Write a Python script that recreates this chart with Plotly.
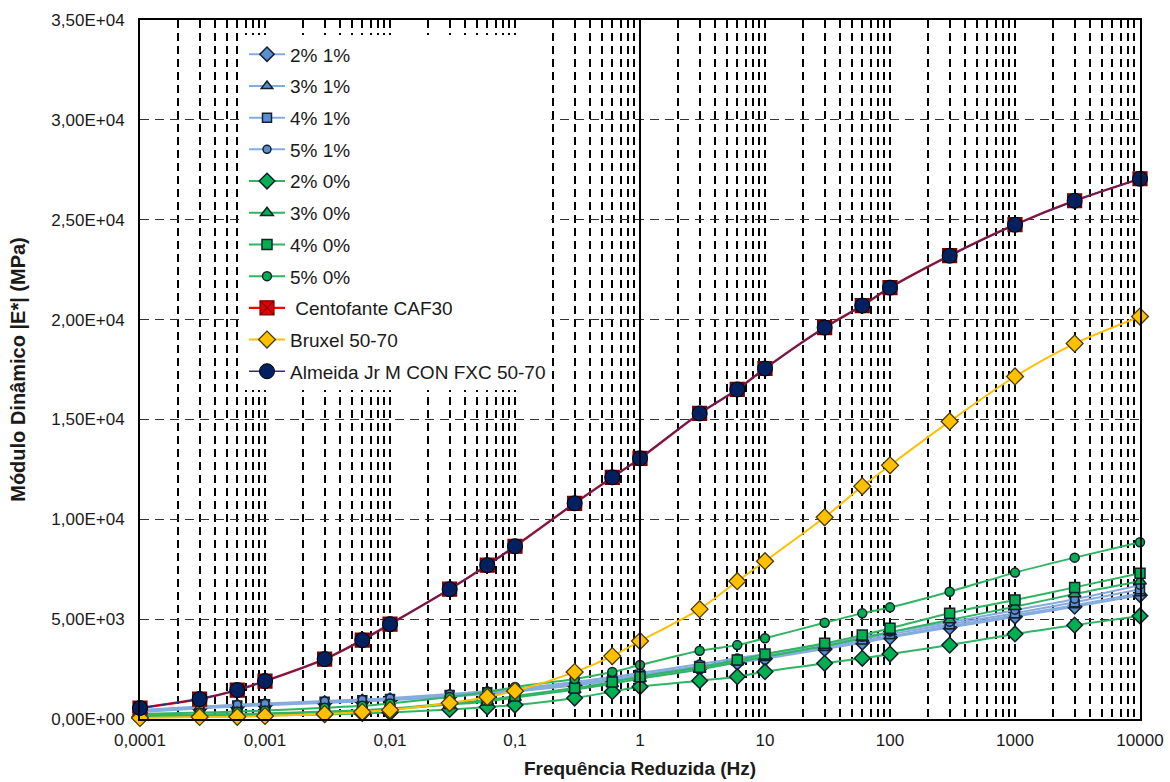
import plotly.graph_objects as go

# Reduced frequency (Hz) shared by every series
freq = [0.0001, 0.0003, 0.0006, 0.001, 0.003, 0.006, 0.01, 0.03, 0.06, 0.1,
        0.3, 0.6, 1, 3, 6, 10, 30, 60, 100, 300, 1000, 3000, 10000]

# Dynamic modulus |E*| (MPa)
e_2_1 = [350, 530, 630, 690, 800, 880, 940, 1120, 1250, 1370, 1680, 1920, 2100,
         2520, 2820, 3020, 3500, 3820, 4080, 4580, 5120, 5620, 6200]
e_3_1 = [380, 560, 660, 720, 840, 920, 980, 1170, 1300, 1420, 1740, 1980, 2170,
         2600, 2900, 3100, 3580, 3900, 4150, 4650, 5200, 5700, 6300]
e_4_1 = [400, 580, 680, 740, 860, 940, 1000, 1200, 1340, 1450, 1780, 2020, 2220,
         2650, 2950, 3150, 3650, 3980, 4250, 4750, 5300, 5850, 6500]
e_5_1 = [450, 620, 720, 780, 900, 980, 1050, 1250, 1400, 1520, 1850, 2100, 2300,
         2750, 3050, 3250, 3750, 4100, 4350, 4850, 5450, 6000, 6700]
e_2_0 = [110, 140, 160, 180, 230, 280, 320, 480, 600, 700, 1050, 1370, 1620,
         1920, 2120, 2370, 2790, 3040, 3250, 3700, 4260, 4700, 5160]
e_3_0 = [160, 200, 230, 260, 340, 400, 480, 720, 880, 1080, 1470, 1760, 2020,
         2480, 2850, 3120, 3650, 4050, 4350, 4960, 5620, 6260, 6900]
e_4_0 = [180, 220, 250, 280, 370, 440, 520, 780, 950, 1150, 1550, 1850, 2120,
         2590, 2950, 3250, 3790, 4200, 4540, 5300, 5960, 6590, 7300]
e_5_0 = [250, 320, 370, 420, 560, 660, 780, 1100, 1350, 1600, 2000, 2350, 2700,
         3420, 3700, 4040, 4820, 5290, 5590, 6375, 7330, 8080, 8850]
e_centofante = [550, 1000, 1450, 1900, 3000, 3950, 4750, 6500, 7700, 8650, 10800,
                12100, 13050, 15300, 16500, 17550, 19600, 20700, 21600, 23200,
                24750, 25950, 27050]
e_bruxel = [50, 100, 110, 150, 250, 350, 450, 800, 1100, 1400, 2350, 3150, 3900,
            5500, 6900, 7900, 10100, 11650, 12700, 14900, 17150, 18800, 20150]
e_almeida = [550, 1000, 1450, 1900, 3000, 3950, 4750, 6500, 7700, 8650, 10800,
             12100, 13050, 15300, 16500, 17550, 19600, 20700, 21600, 23200,
             24750, 25950, 27050]

# Axis ticks
x_decades = [0.0001, 0.001, 0.01, 0.1, 1, 10, 100, 1000, 10000]
x_labels = ["0,0001", "0,001", "0,01", "0,1", "1", "10", "100", "1000", "10000"]
y_vals = [0, 5000, 10000, 15000, 20000, 25000, 30000, 35000]
y_labels = ["0,00E+00", "5,00E+03", "1,00E+04", "1,50E+04", "2,00E+04",
            "2,50E+04", "3,00E+04", "3,50E+04"]

BLUE_LINE = "#86ACDF"
BLUE_FILL = "#5B8DD3"
GREEN_LINE = "#2FB562"
GREEN_FILL = "#00B050"
EDGE = "#14202E"

series = [
    ("2% 1%", e_2_1, BLUE_LINE, BLUE_FILL, "diamond", 11),
    ("3% 1%", e_3_1, BLUE_LINE, BLUE_FILL, "triangle-up", 10),
    ("4% 1%", e_4_1, BLUE_LINE, BLUE_FILL, "square", 9),
    ("5% 1%", e_5_1, BLUE_LINE, BLUE_FILL, "circle", 8),
    ("2% 0%", e_2_0, GREEN_LINE, GREEN_FILL, "diamond", 12),
    ("3% 0%", e_3_0, GREEN_LINE, GREEN_FILL, "triangle-up", 11),
    ("4% 0%", e_4_0, GREEN_LINE, GREEN_FILL, "square", 10),
    ("5% 0%", e_5_0, GREEN_LINE, GREEN_FILL, "circle", 9),
]

fig = go.Figure()
for i, (name, vals, lc, fc, sym, sz) in enumerate(series):
    fig.add_trace(go.Scatter(
        x=freq, y=vals, name=name, mode="lines+markers", legendgroup=f"g{i}",
        line=dict(color=lc, width=2, shape="spline", smoothing=0.8),
        marker=dict(symbol=sym, size=sz, color=fc, line=dict(color=EDGE, width=1.5)),
        cliponaxis=False,
    ))

fig.add_trace(go.Scatter(
    x=freq, y=e_centofante, name=" Centofante CAF30", mode="lines+markers",
    legendgroup="g8",
    line=dict(color="#FF0000", width=2.4, shape="spline", smoothing=0.8),
    marker=dict(symbol="square-x", size=14, color="#E00000",
                line=dict(color="#7A0000", width=1.2)),
    cliponaxis=False,
))
fig.add_trace(go.Scatter(
    x=freq, y=e_bruxel, name="Bruxel 50-70", mode="lines+markers",
    legendgroup="g9",
    line=dict(color="#FFC000", width=2, shape="spline", smoothing=0.8),
    marker=dict(symbol="diamond", size=13, color="#FFC000",
                line=dict(color="#4A3A00", width=1.3)),
    cliponaxis=False,
))
fig.add_trace(go.Scatter(
    x=freq, y=e_almeida, name="Almeida Jr M CON FXC 50-70", mode="lines+markers",
    legendgroup="g10",
    line=dict(color="#3B2A70", width=1.5, shape="spline", smoothing=0.8),
    marker=dict(symbol="circle", size=15, color="#002060",
                line=dict(color="#000000", width=1)),
    cliponaxis=False,
))

# gridlines on every 1..9 multiple of each decade, labels only on decades
grid_x = []
grid_text = []
for d, lab in zip(x_decades, x_labels):
    grid_x.append(d)
    grid_text.append(lab)
    if d < 10000:
        for m in range(2, 10):
            grid_x.append(d * m)
            grid_text.append("")

font_main = "Liberation Sans, Arial, sans-serif"

fig.update_layout(
    width=1170, height=782,
    margin=dict(l=140, r=30, t=20, b=63),
    paper_bgcolor="white", plot_bgcolor="white",
    font=dict(family=font_main, color="#1A1A1A"),
    showlegend=True,
    legend=dict(
        x=0.104, y=0.978, xanchor="left", yanchor="top",
        bgcolor="#FFFFFF", borderwidth=0,
        font=dict(size=19, family=font_main, color="#1A1A1A"),
        tracegroupgap=4, itemwidth=36,
    ),
    xaxis=dict(
        type="log", range=[-4, 4], automargin=False,
        tickmode="array", tickvals=grid_x, ticktext=grid_text,
        tickfont=dict(size=17), ticks="", ticklabelstandoff=5,
        showgrid=True, gridcolor="#000000", gridwidth=1.5, griddash="8px,5px",
        showline=True, linecolor="#000000", linewidth=2, mirror=True,
        zeroline=False,
        title=dict(text="<b>Frequência Reduzida (Hz)</b>", font=dict(size=19),
                   standoff=12),
    ),
    yaxis=dict(
        range=[0, 35000], automargin=False,
        tickmode="array", tickvals=y_vals, ticktext=y_labels,
        tickfont=dict(size=17), ticks="", ticklabelstandoff=10,
        showgrid=True, gridcolor="#333333", gridwidth=1.2, griddash="9px,6px",
        showline=True, linecolor="#000000", linewidth=2, mirror=True,
        zeroline=False,
        title=dict(text="<b>Módulo Dinâmico |E*| (MPa)</b>", font=dict(size=20),
                   standoff=20),
    ),
    shapes=[dict(type="line", xref="x", yref="paper", x0=1, x1=1, y0=0, y1=1,
                 line=dict(color="#000000", width=2))],
)

fig.write_html("out.html")
